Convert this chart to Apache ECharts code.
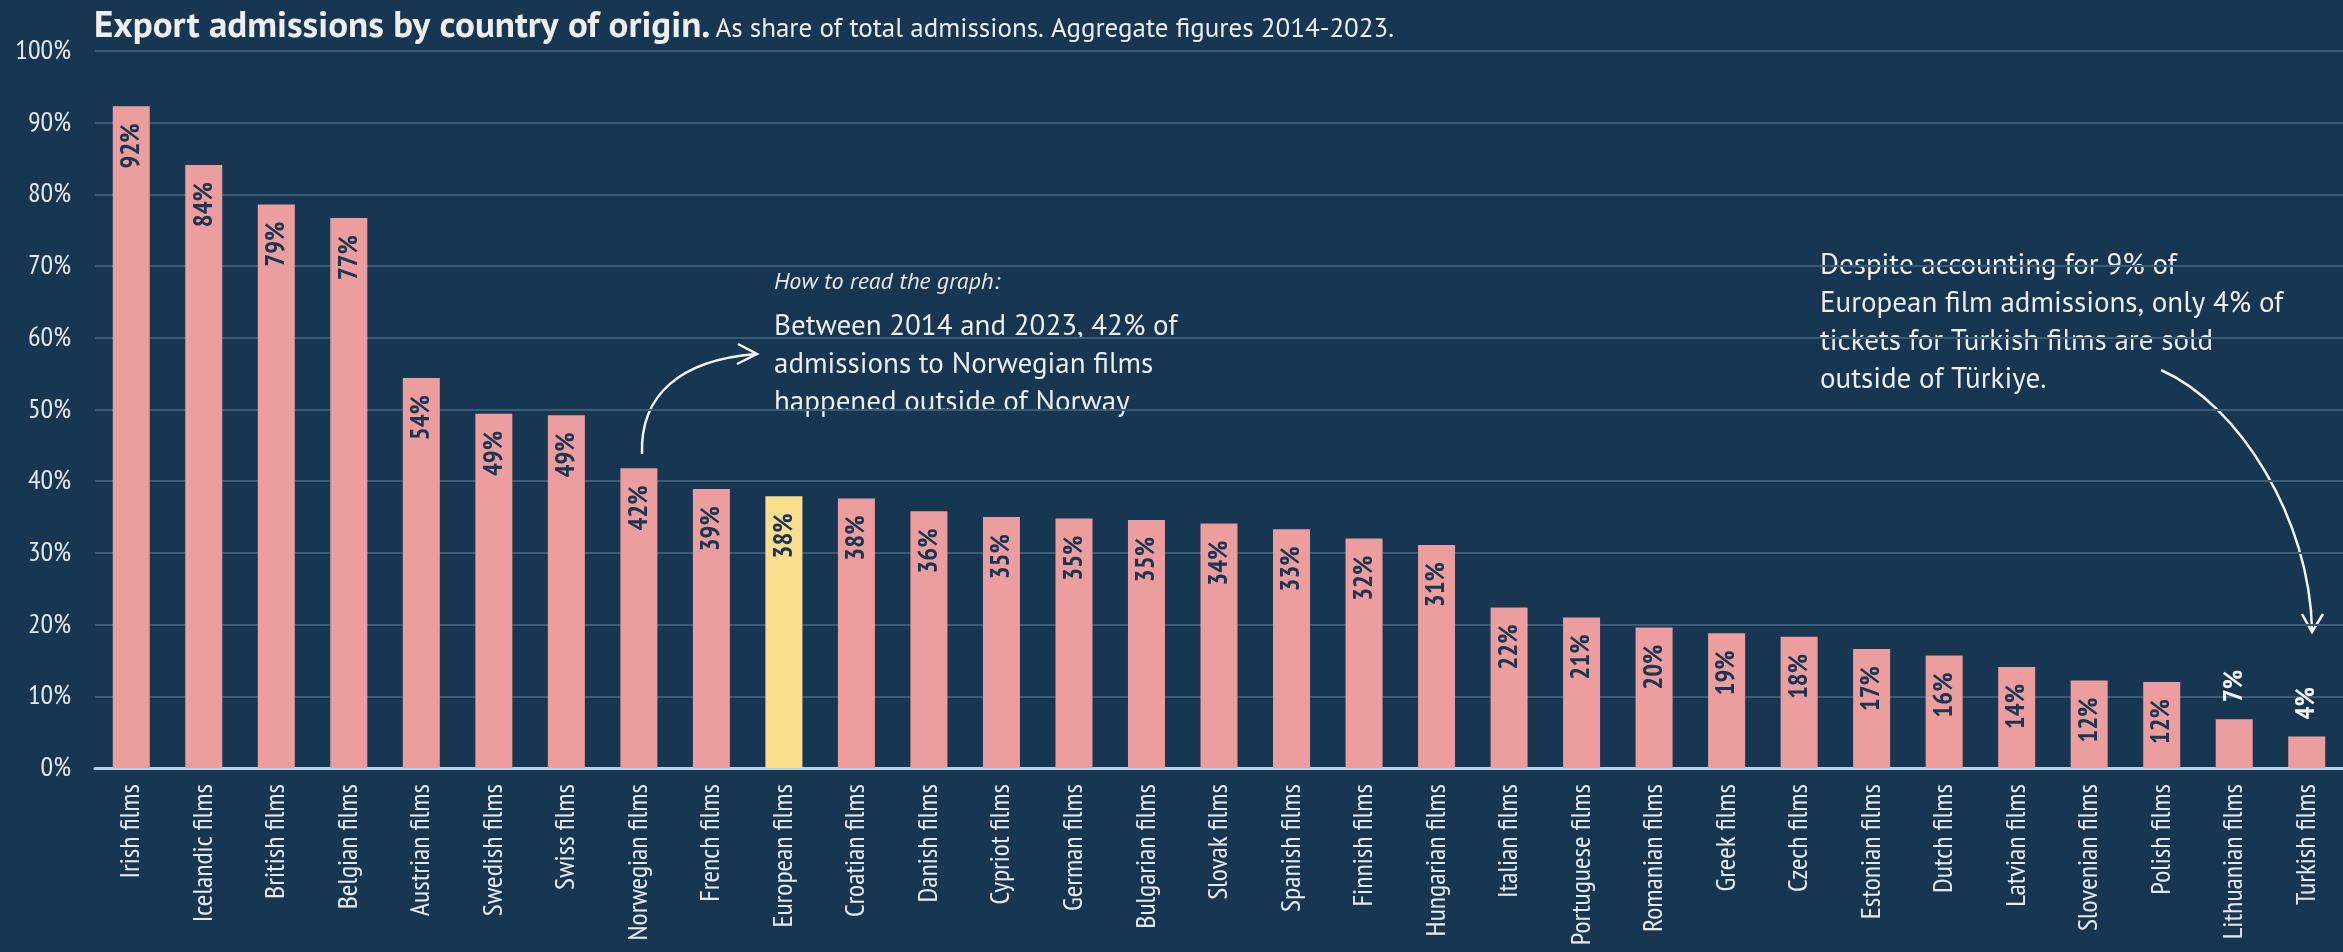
<!DOCTYPE html>
<html>
<head>
<meta charset="utf-8">
<title>Export admissions by country of origin</title>
<script src="https://cdn.jsdelivr.net/npm/echarts@6/dist/echarts.min.js"></script>
<style>
  html, body { margin: 0; padding: 0; background: #173651; }
  #chart { width: 2343px; height: 952px; }
</style>
</head>
<body>
<div id="chart"></div>
<script>
const categories = [
  "Irish films", "Icelandic films", "British films", "Belgian films", "Austrian films",
  "Swedish films", "Swiss films", "Norwegian films", "French films", "European films",
  "Croatian films", "Danish films", "Cypriot films", "German films", "Bulgarian films",
  "Slovak films", "Spanish films", "Finnish films", "Hungarian films", "Italian films",
  "Portuguese films", "Romanian films", "Greek films", "Czech films", "Estonian films",
  "Dutch films", "Latvian films", "Slovenian films", "Polish films", "Lithuanian films",
  "Turkish films"
];
const shares = [
  92.3, 84.1, 78.6, 76.7, 54.4,
  49.4, 49.2, 41.8, 38.9, 37.9,
  37.6, 35.8, 35.0, 34.8, 34.6,
  34.1, 33.3, 32.0, 31.1, 22.4,
  21.0, 19.6, 18.8, 18.3, 16.6,
  15.7, 14.1, 12.2, 12.0, 6.8,
  4.4
];
const highlighted = ["European films"];
const labelOutside = ["Lithuanian films", "Turkish films"];
const yTicks = [0, 10, 20, 30, 40, 50, 60, 70, 80, 90, 100];

const NARROW = "'PT Sans Narrow', 'Roboto Condensed', sans-serif";
const SANS = "'PT Sans', 'Noto Sans', sans-serif";

const chart = echarts.init(document.getElementById("chart"));

const barData = shares.map((v, i) => {
  const name = categories[i];
  const item = {
    value: v,
    itemStyle: { color: highlighted.includes(name) ? "#f9df8d" : "#ec9e9e" }
  };
  // the two smallest bars carry their label above the bar
  if (labelOutside.includes(name)) {
    item.label = {
      position: "top",
      align: "left",
      distance: 17,
      color: "#f2f2f2"
    };
  }
  return item;
});

const option = {
  backgroundColor: "#173651",
  animation: false,
  title: {
    left: 94,
    top: 3,
    padding: 0,
    text: "{b|Export admissions by country of origin.} {r|As share of total admissions. Aggregate figures 2014-2023.}",
    textStyle: {
      rich: {
        b: { fontFamily: SANS, fontWeight: "bold", fontSize: 37, color: "#eeeeee", lineHeight: 42, verticalAlign: "bottom" },
        r: { fontFamily: SANS, fontWeight: "normal", fontSize: 27, color: "#eeeeee", lineHeight: 42, verticalAlign: "bottom", padding: [0, 0, 2, 0] }
      }
    }
  },
  grid: { left: 95, top: 51, width: 2261, bottom: 184, containLabel: false },
  xAxis: {
    type: "category",
    data: categories,
    axisTick: { show: false },
    axisLine: { lineStyle: { color: "#b5d6ec", width: 3 } },
    axisLabel: {
      rotate: 90,
      interval: 0,
      margin: 16,
      color: "#e6e9ec",
      fontFamily: NARROW,
      fontSize: 28
    }
  },
  yAxis: {
    type: "value",
    min: 0,
    max: 100,
    interval: 10,
    axisLine: { show: false },
    axisTick: { show: false },
    axisLabel: {
      margin: 24,
      color: "#e6e9ec",
      fontFamily: NARROW,
      fontSize: 28,
      formatter: v => yTicks.includes(v) ? v + "%" : ""
    },
    splitLine: { lineStyle: { color: "#3c5b77", width: 2 } }
  },
  series: [{
    type: "bar",
    data: barData,
    barWidth: 37,
    label: {
      show: true,
      position: "insideTop",
      rotate: 90,
      align: "right",
      verticalAlign: "middle",
      distance: 17,
      color: "#1c3553",
      fontFamily: NARROW,
      fontWeight: "bold",
      fontSize: 27,
      formatter: p => Math.round(p.value) + "%"
    }
  }],
  graphic: [
    {
      type: "text", left: 774, top: 270,
      style: { text: "How to read the graph:", font: "italic 24px " + SANS, fill: "#e8e8e8" }
    },
    {
      type: "text", left: 774, top: 308,
      style: {
        text: "Between 2014 and 2023, 42% of\nadmissions to Norwegian films\nhappened outside of Norway",
        font: "29px " + SANS, lineHeight: 38, fill: "#eeeeee"
      }
    },
    {
      type: "text", left: 1820, top: 247,
      style: {
        text: "Despite accounting for 9% of\nEuropean film admissions, only 4% of\ntickets for Turkish films are sold\noutside of T\u00fcrkiye.",
        font: "29px " + SANS, lineHeight: 38, fill: "#eeeeee"
      }
    },
    // arrow from the Norwegian bar to the reading note
    {
      type: "bezierCurve",
      shape: { x1: 642, y1: 454, cpx1: 640, cpy1: 395, cpx2: 680, cpy2: 360, x2: 756, y2: 354 },
      style: { stroke: "#f2f2f2", lineWidth: 2.5, fill: null }
    },
    {
      type: "polyline",
      shape: { points: [[738, 344], [757, 354], [737, 364]] },
      style: { stroke: "#f2f2f2", lineWidth: 2.5, fill: null }
    },
    // arrow from the Türkiye note down to the Turkish bar
    {
      type: "bezierCurve",
      shape: { x1: 2161, y1: 370, cpx1: 2240, cpy1: 405, cpx2: 2310, cpy2: 520, x2: 2312, y2: 630 },
      style: { stroke: "#f2f2f2", lineWidth: 2.5, fill: null }
    },
    {
      type: "polyline",
      shape: { points: [[2302, 614], [2312, 632], [2323, 614]] },
      style: { stroke: "#f2f2f2", lineWidth: 2.5, fill: null }
    }
  ]
};

chart.setOption(option);
</script>
</body>
</html>
